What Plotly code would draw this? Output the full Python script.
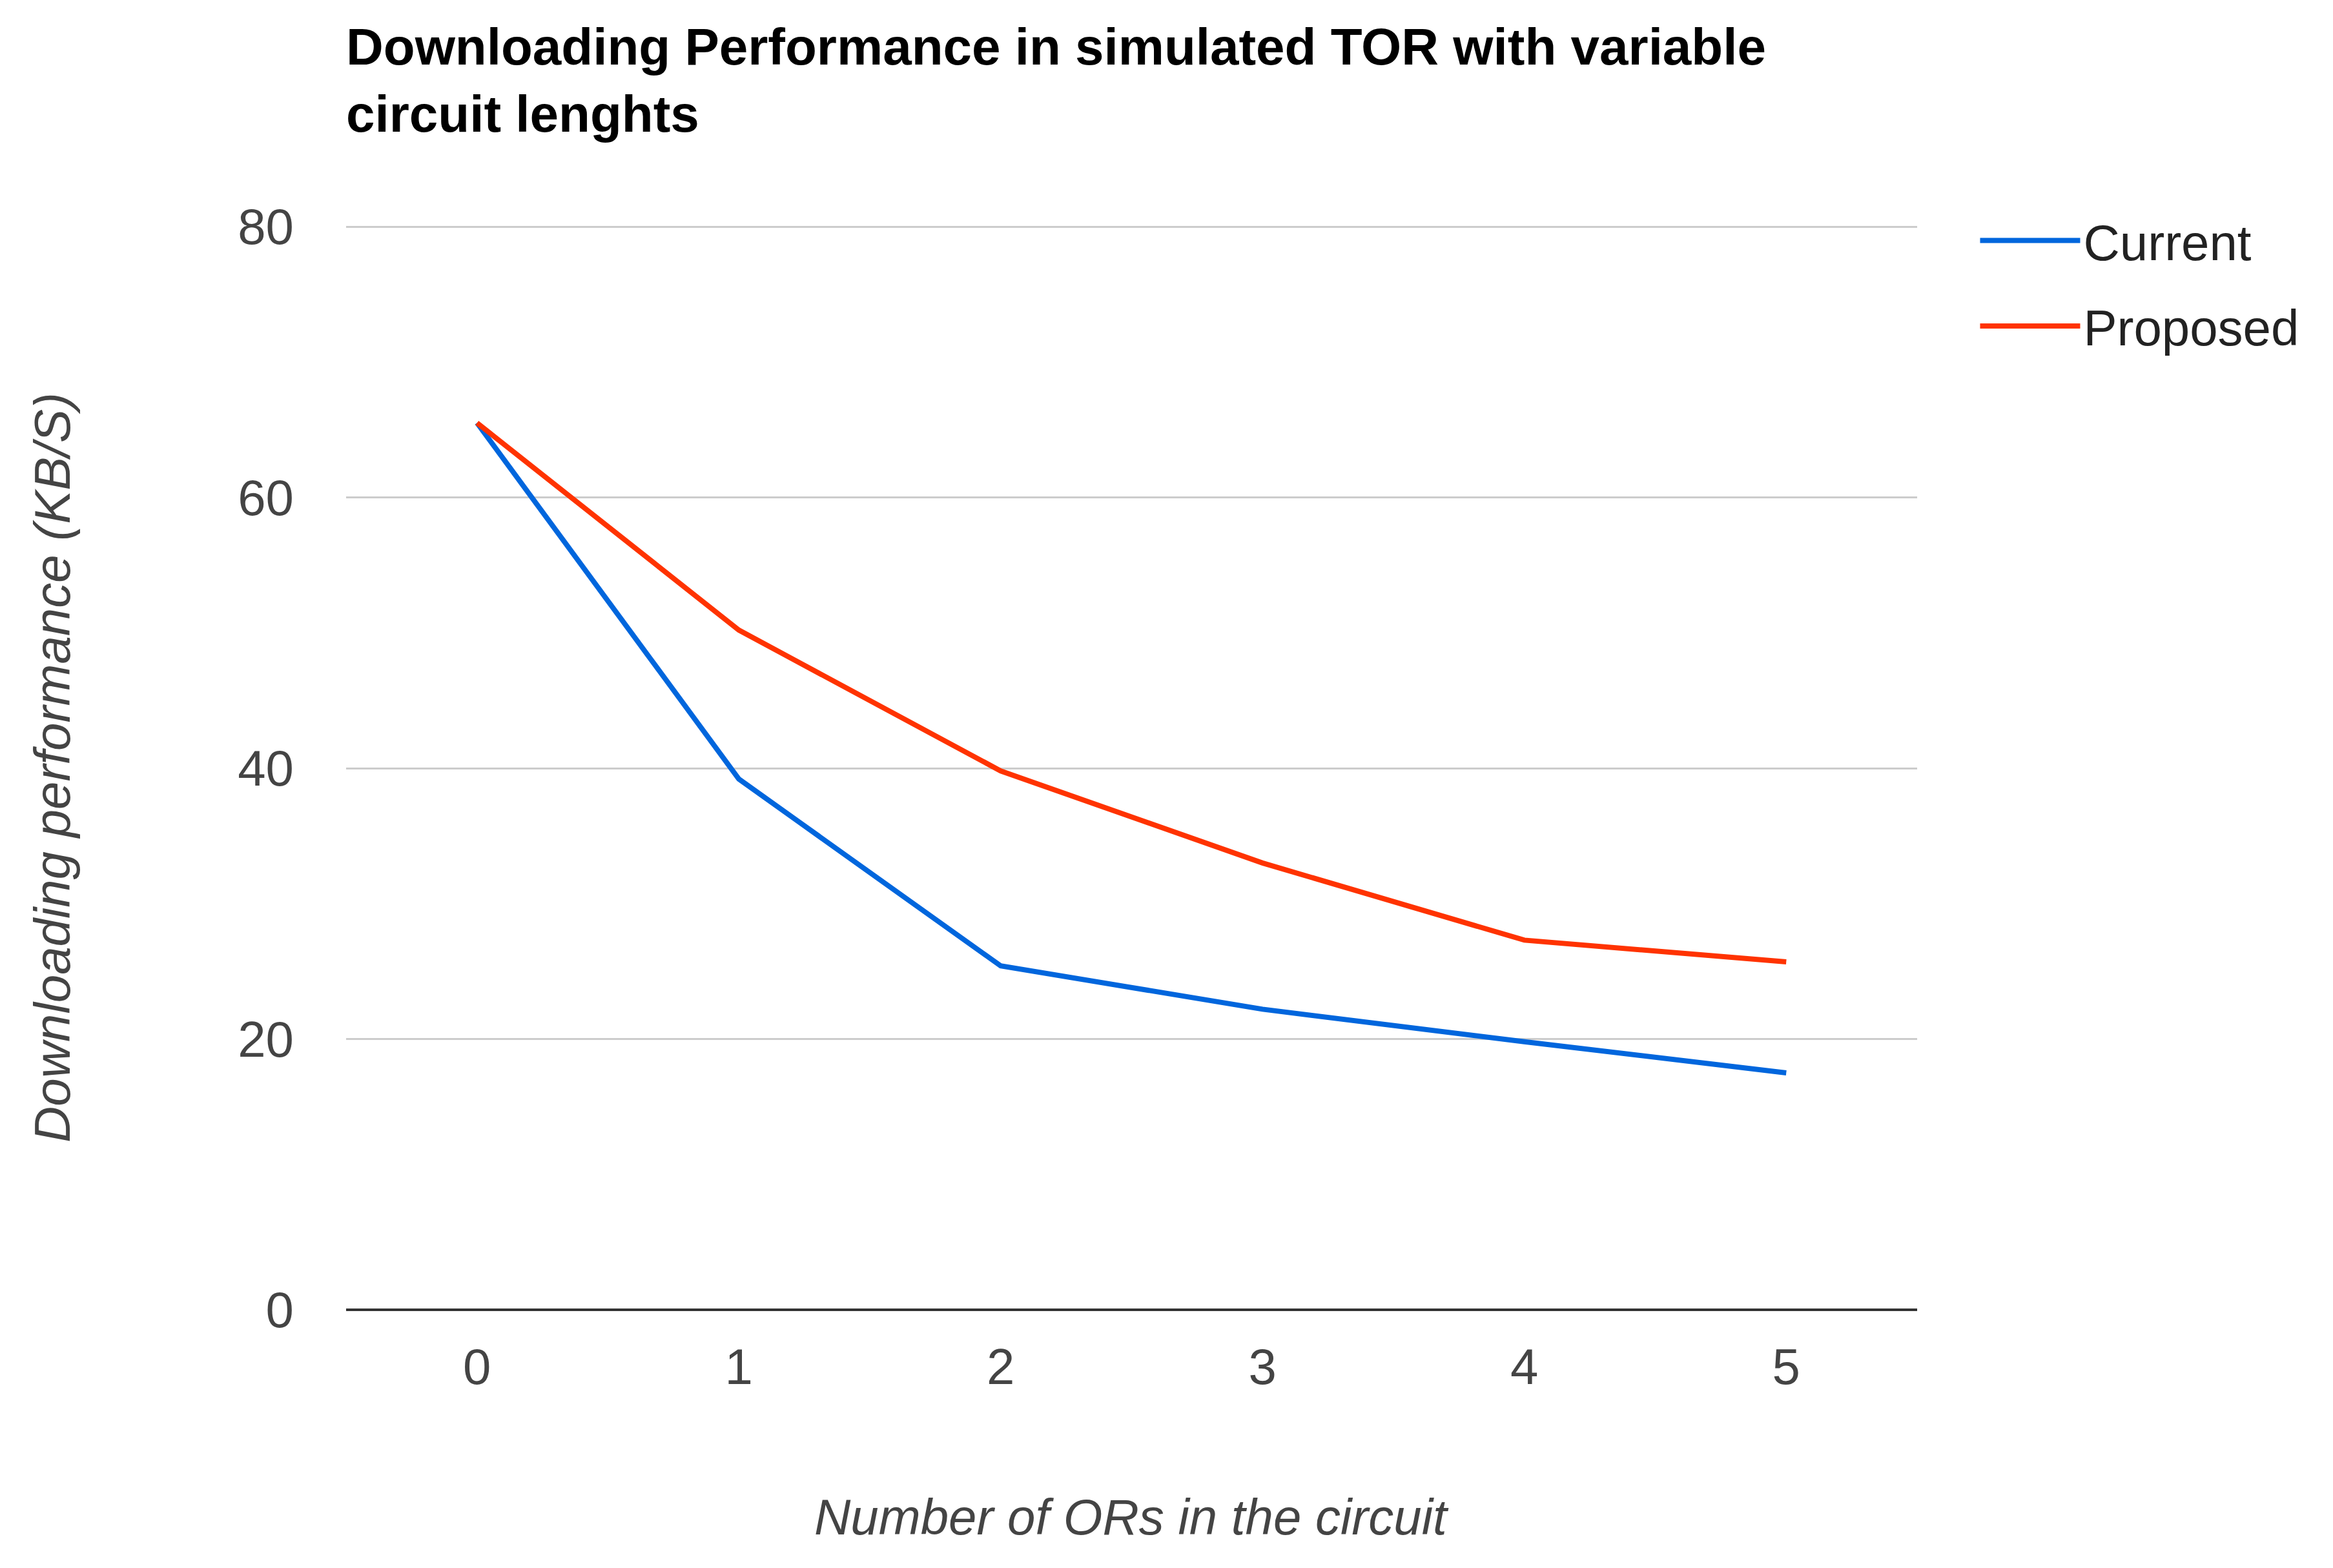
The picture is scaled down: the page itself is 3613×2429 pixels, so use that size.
import plotly.graph_objects as go

# ---- data ----
circuit_ors = [0, 1, 2, 3, 4, 5]
current_kbs = [65.5, 39.2, 25.4, 22.2, 19.8, 17.5]
proposed_kbs = [65.5, 50.2, 39.8, 33.0, 27.3, 25.7]
y_ticks = [0, 20, 40, 60, 80]

title_text = "Downloading Performance in simulated TOR with variable<br>circuit lenghts"
x_title = "Number of ORs in the circuit"
y_title = "Downloading performance (KB/S)"

FONT = "Liberation Sans, Arial, sans-serif"
W, H = 3613, 2429
L, R, T, B = 536, 644, 349, 400

fig = go.Figure()
fig.add_trace(go.Scatter(
    x=circuit_ors, y=current_kbs, name="Current", mode="lines",
    line=dict(color="#0066DD", width=8), legendgroup="a"))
fig.add_trace(go.Scatter(
    x=circuit_ors, y=proposed_kbs, name="Proposed", mode="lines",
    line=dict(color="#FF3300", width=8), legendgroup="b"))

fig.update_layout(
    width=W, height=H,
    margin=dict(l=L, r=R, t=T, b=B, autoexpand=False),
    paper_bgcolor="white", plot_bgcolor="white",
    font=dict(family=FONT, size=78, color="#222222"),
    title=dict(text="<b>" + title_text + "</b>", x=L / W, xanchor="left", xref="container",
               y=1 - 100 / H, yanchor="top", yref="container",
               font=dict(family=FONT, size=80, color="#000000")),
    showlegend=True,
    legend=dict(x=1.038, xanchor="left", y=1.02, yanchor="top",
                font=dict(family=FONT, size=78, color="#222222"),
                itemwidth=155, tracegroupgap=28, traceorder="grouped",
                bgcolor="rgba(0,0,0,0)"),
    xaxis=dict(range=[-0.5, 5.5], tickvals=circuit_ors, showgrid=False, zeroline=False,
               showline=False, ticks="", ticklabelstandoff=36,
               tickfont=dict(family=FONT, size=78, color="#444444")),
    yaxis=dict(range=[0, 80.1], tickvals=y_ticks, showgrid=True, gridcolor="#CCCCCC",
               gridwidth=3, zeroline=True, zerolinecolor="#333333", zerolinewidth=4,
               showline=False, ticks="", ticklabelstandoff=80,
               tickfont=dict(family=FONT, size=78, color="#444444")),
    annotations=[
        dict(text="<i>" + x_title + "</i>", xref="paper", yref="paper", x=0.5,
             y=-(2350 - (H - B)) / (H - T - B),
             xanchor="center", yanchor="middle", showarrow=False,
             font=dict(family=FONT, size=78, color="#444444")),
        dict(text="<i>" + y_title + "</i>", xref="paper", yref="paper",
             x=-(L - 81) / (W - L - R), y=0.5,
             xanchor="center", yanchor="middle", showarrow=False, textangle=-90,
             font=dict(family=FONT, size=78, color="#444444")),
    ],
)

fig.write_html("out.html", config={"displayModeBar": False},
               post_script="document.body.style.margin='0';")
